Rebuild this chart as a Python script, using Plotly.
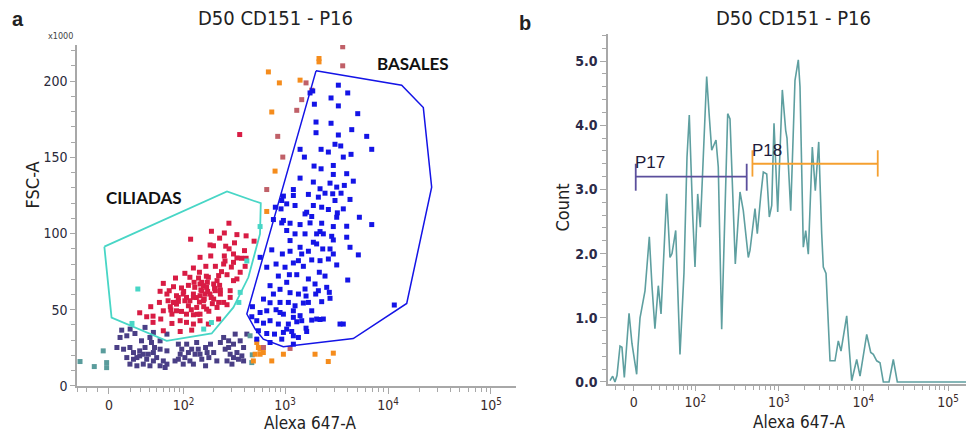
import numpy as np
import plotly.graph_objects as go

W, H = 966, 432
H_EFF = 423  # the page is photographed slightly compressed vertically
C = 19.5  # linear width of the biexponential (logicle-like) display


def disp(v):
    v = np.asarray(v, dtype=float)
    return np.log10(C) + np.arcsinh(v / (2 * C)) / np.log(10)


def px(x):
    return x / W


def py(y):
    return 1 - y / H_EFF


# ---------------- Panel a : FSC-A (x1000) vs Alexa 647-A ----------------
basales_alexa = [1858, 1750, 3296, 4064, 2798, 1928, 3296, 5082, 2000, 2798,
                 2000, 4446, 6213, 3296, 1400, 1542, 2239, 2636, 3057, 3475,
                 4375, 6950, 3681, 1914, 2239, 2944, 3972, 2944, 4603, 1400,
                 1205, 1884, 2188, 2735, 3177, 3767, 3499, 964, 929, 1205,
                 1686, 2108, 2445, 2904, 4276, 805, 914, 1251, 1564, 1884,
                 1623, 2270, 2636, 3221, 3681, 5272, 771, 929, 1119, 1400,
                 1816, 1750, 2270, 2944, 3972, 6950, 1038, 1251, 1564, 1884,
                 2188, 2840, 2944, 3972, 743, 942, 1119, 1400, 1686, 2028,
                 2323, 2735, 4276, 572, 664, 818, 1000, 1205, 1507, 1816,
                 2153, 2636, 3177, 5152, 861, 1102, 1300, 1686, 1956, 2445,
                 4064, 715, 894, 1119, 1349, 1600, 1986, 2692, 2735, 617,
                 715, 894, 1077, 1251, 1507, 1816, 2270, 11510, 482, 572,
                 664, 818, 964, 1205, 1400, 1816, 2188, 475, 531, 617,
                 715, 861, 1077, 1300, 1600, 3420, 3681, 551, 664, 790,
                 964, 1161, 1349, 1623, 531, 715, 929, 1205, 1205, 2028,
                 2355, 1038, 1452, 1119, 964, 1349, 1564, 1038, 771, 894,
                 1205, 1038, 1452, 1686, 2108, 2540, 2188, 2944, 2355, 2028,
                 3177, 3057]
basales_fsc = [193.6, 192.3, 197.4, 192.3, 189, 184.9, 183.8, 178.7, 173.2, 172.4,
               166.2, 168.2, 163.8, 164.7, 155.3, 150.2, 155.3, 153.5, 158.6, 157.5,
               152, 155.3, 150.2, 144.3, 142.5, 144.7, 139.3, 138.8, 134.4, 136.4,
               128.9, 133.8, 129.4, 133.1, 130.5, 131.6, 126.5, 124.6, 121.7, 125,
               125.7, 123.9, 126.5, 126.1, 122.4, 117.3, 116.2, 118.4, 112.9, 118.4,
               114, 117.3, 115.8, 113.6, 116.2, 110.7, 109.2, 107, 106.8, 105.9,
               111.2, 107, 106.8, 104.6, 104.8, 105.9, 102, 99.8, 99.8, 94.3,
               101.3, 98.2, 95.8, 97.6, 89.3, 86.6, 88.4, 91, 88.4, 93.2,
               89.9, 89.9, 91, 84.4, 77.9, 80, 77.9, 80.7, 78.5, 82.7,
               74.6, 83.3, 79.4, 86, 72.1, 73, 73, 70.2, 66.9, 72.1,
               69.5, 65.8, 63.4, 61.2, 60.3, 59, 60.3, 61.4, 57.5, 57,
               54.6, 54.8, 54.8, 52.6, 54.4, 49.3, 55.3, 53.1, 52, 48.2,
               49.3, 50, 47.1, 49.3, 46.1, 43.2, 43.6, 45.4, 42.8, 41.2,
               42.8, 40.6, 40.6, 42.1, 37.9, 40.6, 40.6, 36.2, 34.4, 34,
               35.1, 35.7, 31.8, 35.7, 30.7, 28.5, 30.7, 32.9, 27.4, 43.9,
               43.9, 119.5, 86.6, 95.4, 108.6, 82.2, 63.6, 68, 60.3, 48.2,
               45, 37.3, 42.8, 54.8, 62.5, 64.7, 82.2, 86.6, 99.8, 99.8,
               110.7, 121.7]

ciliadas_alexa = [118, 191, 256, 284, 340, 418, 500, 264, 185, 322,
                  147, 188, 256, 315, 403, 340, 377, 418, 126, 168,
                  209, 252, 315, 409, 103, 82, 116, 142, 178, 225,
                  272, 340, 60, 78, 95, 147, 159, 171, 201, 234,
                  292, 55, 70, 84, 107, 126, 147, 185, 234, 42,
                  54, 68, 78, 88, 103, 126, 159, 201, 252, 29,
                  37, 45, 60, 73, 84, 107, 126, 147, 171, 217,
                  272, 45, 56, 75, 92, 107, 126, 147, 60, 92,
                  121, 178, 225, 95, 75, 112, 136, 153, 174, 217,
                  209, 145, 66, 84, 130, 153, 165, 116, 99, 80,
                  225, 292, 315, 366, 362, 100, 112, 135, 150, 162,
                  175, 190, 205, 120, 138, 160, 180, 195, 88, 72,
                  128, 145, 170, 230, 240, 260, 285, 200, 230, 300]
ciliadas_fsc = [96.3, 101.5, 100.4, 106.8, 99.3, 98.5, 95, 91.7, 92.5, 93.9,
                84.4, 85.3, 85.3, 86.6, 88.8, 84, 83.8, 83.8, 77.4, 78.5,
                78.5, 80, 81.1, 78.5, 73.9, 70.8, 71.3, 70.8, 71.3, 72.4,
                73, 70.2, 67.3, 65.1, 64.3, 66.9, 65.8, 64.7, 66.9, 62.9,
                62.5, 62.1, 62.5, 59.2, 58.1, 60.3, 59.2, 60.3, 60.3, 52,
                54.8, 55.9, 54.8, 55.5, 55.9, 58.1, 55.9, 57, 54.8, 48,
                45.4, 45.8, 49.3, 49.8, 49.3, 47.1, 46.7, 47.1, 50.4, 51.5,
                53.3, 41.7, 43.9, 41, 42.8, 41.7, 40.6, 42.8, 36.2, 35.7,
                36.6, 40.6, 43.9, 48.9, 47.1, 52.6, 51.5, 62.5, 68, 69.1,
                62.5, 74.6, 60.3, 53.7, 64.7, 68, 60.3, 55.9, 60.3, 54.8,
                54.8, 58.1, 69.1, 74.6, 165, 62, 66, 58, 63, 57,
                62, 58, 64, 50, 47, 52, 49, 54, 58, 52,
                68, 55, 72, 66, 75, 82, 90, 92, 97, 78]

debris_alexa = [11.3, 19.2, 9.8, 16, 24, 35, 41, 31, 45.5, 55,
                66, 7, 13, 19, 22.5, 29, 35, 39, 45.5, 55,
                66, 16, 22.5, 29, 37, 45.5, 50, 60, 66, 19,
                26, 33, 41, 55, 63, 88, 95.5, 107.5, 121, 136,
                147, 167, 187, 92, 103, 116, 131, 153, 180, 201,
                88, 99, 126, 167, 252, 282, 315, 366, 395, 261,
                292, 340, 380, 272, 304, 352, 395, 425, 26, 47,
                33, 112, 141, 173, 315, 282, 327, 43, 81, 216,
                234]
debris_fsc = [36.6, 37.3, 31.8, 32.9, 34.4, 38.4, 31.8, 29.6, 35.1, 29.6,
              34, 25.2, 24.1, 25.2, 21.9, 23, 25.2, 20.8, 21.9, 24.1,
              23, 18.6, 17.5, 19.7, 17.5, 16.4, 18.6, 16.4, 14.3, 14.3,
              13.2, 14.3, 13.2, 13.2, 12.1, 27.4, 24.1, 27.4, 24.1, 28.5,
              20.8, 25.2, 27.4, 20.8, 18.6, 16.4, 20.8, 17.5, 18.6, 21.9,
              17.5, 14.3, 14.3, 13.2, 31.8, 29.6, 27.4, 29.6, 25.2, 24.1,
              20.8, 21.9, 19.7, 16.4, 14.3, 17.5, 16.4, 34, 18.6, 25.2,
              20.8, 21.9, 24.1, 21.9, 18.6, 25.2, 34, 28.5, 16.4, 16.4,
              28.5]

ungated_alexa = [-27, -13, -5, -2, -2, 457, 480, 475]
ungated_fsc = [16, 12.7, 23, 15.3, 12, 32.9, 20.4, 15.3]

edge_alexa = [27, 21, 160, 191, 366, 355, 425, 572]
edge_fsc = [63.6, 41, 37.3, 41.6, 61.4, 54.8, 82, 104.6]

orange_alexa = [689, 881, 1400, 2138, 2138, 743, 800, 664, 531, 551,
                512, 572, 615, 492, 743, 964, 1956, 2944, 2630, 572]
orange_fsc = [206.1, 198.9, 200.7, 214.9, 212.7, 179.8, 141, 114.5, 28.5, 25.2,
              20.8, 20.8, 21.9, 16.4, 16.4, 20.8, 20.8, 21.5, 16, 24.1]

rosy_alexa = [3631, 3631, 1600, 1816, 1452, 1300, 849, 951, 664, 1119, 617]
rosy_fsc = [222.6, 210.1, 198.9, 194.1, 187.9, 180.9, 163.8, 150.2, 128.9, 24.6, 25.2]

# gate polygons
gate_ciliadas_alexa = [-4, 2.3, 65.6, 192, 314, 440, 571, 581, 272, -4]
gate_ciliadas_fsc = [91.4, 44.9, 29.6, 34.4, 51.5, 71.3, 99.8, 119.9, 127.6, 91.4]
gate_basales_alexa = [2000, 13580, 22030, 26550, 15200, 4600, 962, 615, 512, 425, 2000]
gate_basales_fsc = [206.8, 197.4, 182.7, 130.5, 54.1, 31.1, 25.7, 30.7, 37.3, 47.2, 206.8]

# ---------------- Panel b : histogram ----------------
hist_alexa = [-27.1, -23.7, -20.9, -18.5, -15.0, -12.8, -10.2, -8.4, -5.1, -2.0,
              3.0, 4.4, 6.6, 12.0, 16.9, 20.0, 23.6, 27.9, 31.5, 39.6,
              44.8, 48.1, 54.6, 62.8, 71.2, 78.1, 83.7, 92.6, 99.1, 107.2,
              115.5, 124.8, 138.5, 147.9, 159.5, 179.8, 191.6, 210.5, 230.7, 248.5,
              264.7, 285, 306.2, 348.2, 381.1, 436.8, 457.6, 524.4, 558.2, 613.2,
              658, 721.7, 774.5, 826.9, 880, 973.2, 1103, 1209, 1253, 1386,
              1557, 1704, 1784, 1952, 2084, 2236, 2493, 2704, 2968, 3218,
              3362, 3619, 4035, 4620, 5054, 5439, 6350, 7276, 8335, 9119,
              10940, 12200, 13090, 14360, 15700, 17180, 20060, 22540, 25130, 162700]
hist_count = [0.02, 0.09, 0.0, 0.1, 0.56, 0.54, 0.07, 0.4, 1.07, 0.6,
              0.12, 0.55, 1.0, 1.42, 2.26, 1.5, 0.83, 1.5, 1.06, 2.93,
              1.94, 2.0, 2.36, 0.43, 1.7, 3.5, 4.16, 2.6, 1.79, 2.93,
              2.41, 3.4, 4.76, 4.2, 3.61, 3.77, 3.35, 0.82, 2.8, 4.18,
              4.1, 3.0, 1.84, 2.96, 2.67, 1.94, 2.05, 2.70, 2.31, 2.9,
              3.27, 3.24, 2.57, 2.75, 4.03, 2.65, 4.55, 3.92, 3.8, 2.67,
              4.70, 5.02, 4.6, 2.10, 2.36, 1.99, 3.66, 2.98, 3.74, 2.31,
              1.79, 1.69, 0.33, 0.33, 0.64, 0.48, 1.03, 0.02, 0.35, 0.09,
              0.74, 0.46, 0.43, 0.33, 0.30, 0.0, 0.0, 0.35, 0.0, 0.0]

p17_range = [2, 418]
p17_level, p17_cap = 3.20, [2.98, 3.40]
p18_range = [489, 14760]
p18_level, p18_cap = 3.40, [3.20, 3.61]

major_vals = [0, 100, 1000, 10000, 100000]
major_text = ["0", "10<sup>2</sup>", "10<sup>3</sup>", "10<sup>4</sup>", "10<sup>5</sup>"]
minor_vals = ([-30, -20, -10] + list(range(20, 100, 10)) + list(range(200, 1000, 100))
              + list(range(2000, 10000, 1000)) + list(range(20000, 100000, 10000)) + [200000])

COL_BLUE = "#1414e6"
COL_RED = "#d81c44"
COL_PURPLE = "#4a3f86"
COL_TEAL = "#5a9c9c"
COL_TURQ = "#48d6c6"
COL_ORANGE = "#f58c1c"
COL_ROSY = "#c06068"
COL_HIST = "#5e9fa0"
FONT = "DejaVu Sans Condensed, DejaVu Sans, sans-serif"

fig = go.Figure()


def pts(x, y, color, name):
    fig.add_trace(go.Scatter(x=disp(x), y=y, mode="markers", name=name,
                             marker=dict(symbol="square", size=5, color=color,
                                         line=dict(width=0)),
                             xaxis="x", yaxis="y", showlegend=False))


pts(debris_alexa, debris_fsc, COL_PURPLE, "debris")
pts(ungated_alexa, ungated_fsc, COL_TEAL, "ungated")
pts(orange_alexa, orange_fsc, COL_ORANGE, "orange")
pts(rosy_alexa, rosy_fsc, COL_ROSY, "rosy")
pts(ciliadas_alexa, ciliadas_fsc, COL_RED, "ciliadas")
pts(edge_alexa, edge_fsc, COL_TURQ, "edge")
pts(basales_alexa, basales_fsc, COL_BLUE, "basales")

fig.add_trace(go.Scatter(x=disp(gate_ciliadas_alexa), y=gate_ciliadas_fsc, mode="lines",
                         line=dict(color=COL_TURQ, width=1.8), xaxis="x", yaxis="y",
                         showlegend=False))
fig.add_trace(go.Scatter(x=disp(gate_basales_alexa), y=gate_basales_fsc, mode="lines",
                         line=dict(color=COL_BLUE, width=1.5), xaxis="x", yaxis="y",
                         showlegend=False))

# histogram
fig.add_trace(go.Scatter(x=disp(hist_alexa), y=hist_count, mode="lines",
                         line=dict(color=COL_HIST, width=1.6), xaxis="x2", yaxis="y2",
                         showlegend=False))


def gate_bar(rng, level, cap, color):
    xs = disp([rng[0], rng[1], rng[0], rng[0], rng[1], rng[1]]).tolist()
    ys = [level, level, cap[0], cap[1], cap[0], cap[1]]
    xs = xs[:2] + [None] + xs[2:4] + [None] + xs[4:]
    ys = ys[:2] + [None] + ys[2:4] + [None] + ys[4:]
    fig.add_trace(go.Scatter(x=xs, y=ys, mode="lines", line=dict(color=color, width=1.8),
                             xaxis="x2", yaxis="y2", showlegend=False, connectgaps=False))


gate_bar(p17_range, p17_level, p17_cap, "#5b4f9c")
gate_bar(p18_range, p18_level, p18_cap, "#f5a030")

axis_common = dict(showgrid=False, zeroline=False, showline=True, linecolor="#a8a8a8",
                   linewidth=1.5, ticks="outside", tickcolor="#a8a8a8", tickwidth=1.2)

xaxis_common = dict(axis_common, tickmode="array", tickvals=disp(major_vals).tolist(),
                    ticktext=major_text, ticklen=6,
                    tickfont=dict(family=FONT, size=14, color="#3a2a2a"),
                    minor=dict(tickvals=disp(minor_vals).tolist(), ticklen=4,
                               tickcolor="#a8a8a8", ticks="outside"))

fig.update_layout(
    width=W, height=H, autosize=False,
    margin=dict(l=0, r=0, t=0, b=0),
    paper_bgcolor="white", plot_bgcolor="white",
    xaxis=dict(xaxis_common, domain=[px(77), px(516)], range=[0.98, 5.243], anchor="y"),
    yaxis=dict(axis_common, domain=[py(385), py(45)], range=[0, 223.7], anchor="x",
               tickmode="array", tickvals=[0, 50, 100, 150, 200], ticklen=5,
               tickfont=dict(family=FONT, size=14, color="#2a2a3a"),
               minor=dict(dtick=10, ticklen=4, tickcolor="#a8a8a8", ticks="outside")),
    xaxis2=dict(xaxis_common, domain=[px(608), 1.0], range=[0.985, 5.211], anchor="y2",
                ticklen=5),
    yaxis2=dict(axis_common, domain=[py(383), py(34)], range=[-0.03, 5.42], anchor="x2",
                tickmode="array", tickvals=[0, 1, 2, 3, 4, 5],
                ticktext=["0.0", "1.0", "2.0", "3.0", "4.0", "5.0"], ticklen=6,
                tickfont=dict(family=FONT, size=14, color="#2a2a48", weight="bold"),
                minor=dict(dtick=0.2, ticklen=4, tickcolor="#a8a8a8", ticks="outside")),
    font=dict(family=FONT, color="#222"),
)


def note(text, x, y, size, bold=False, angle=0, family=FONT, color="#222"):
    fig.add_annotation(text=text, x=px(x), y=py(y), xref="paper", yref="paper",
                       showarrow=False, xanchor="center", yanchor="middle",
                       textangle=angle,
                       font=dict(family=family, size=size, color=color,
                                 weight="bold" if bold else "normal"))


note("a", 18, 19, 20, bold=True, family="Liberation Sans")
note("b", 525, 23, 20, bold=True, family="Liberation Sans")
note("D50 CD151 - P16", 275, 18, 20)
note("D50 CD151 - P16", 793, 18, 20)
note("x1000", 60, 36, 9, color="#444")
note("FSC-A", 32, 185, 18, angle=-90)
note("Alexa 647-A", 310, 422, 17)
note("Count", 562, 207, 18, angle=-90)
note("Alexa 647-A", 799, 421, 17)
note("CILIADAS", 144, 197, 17, bold=True, family="Lato", color="#111")
note("BASALES", 413, 63, 17, bold=True, family="Lato", color="#111")
note("P17", 650, 162, 17, family="Liberation Sans", color="#1e1a3a")
note("P18", 767, 150, 17, family="Liberation Sans", color="#1e1a3a")

page_fix = ("var s=document.createElement('style');"
            "s.textContent='html,body{margin:0;padding:0;width:966px;height:432px;overflow:hidden;}"
            ".plotly-graph-div{display:block;}';"
            "document.head.appendChild(s);")

fig.write_html("out.html", config={"displayModeBar": False, "responsive": False},
               post_script=page_fix)
